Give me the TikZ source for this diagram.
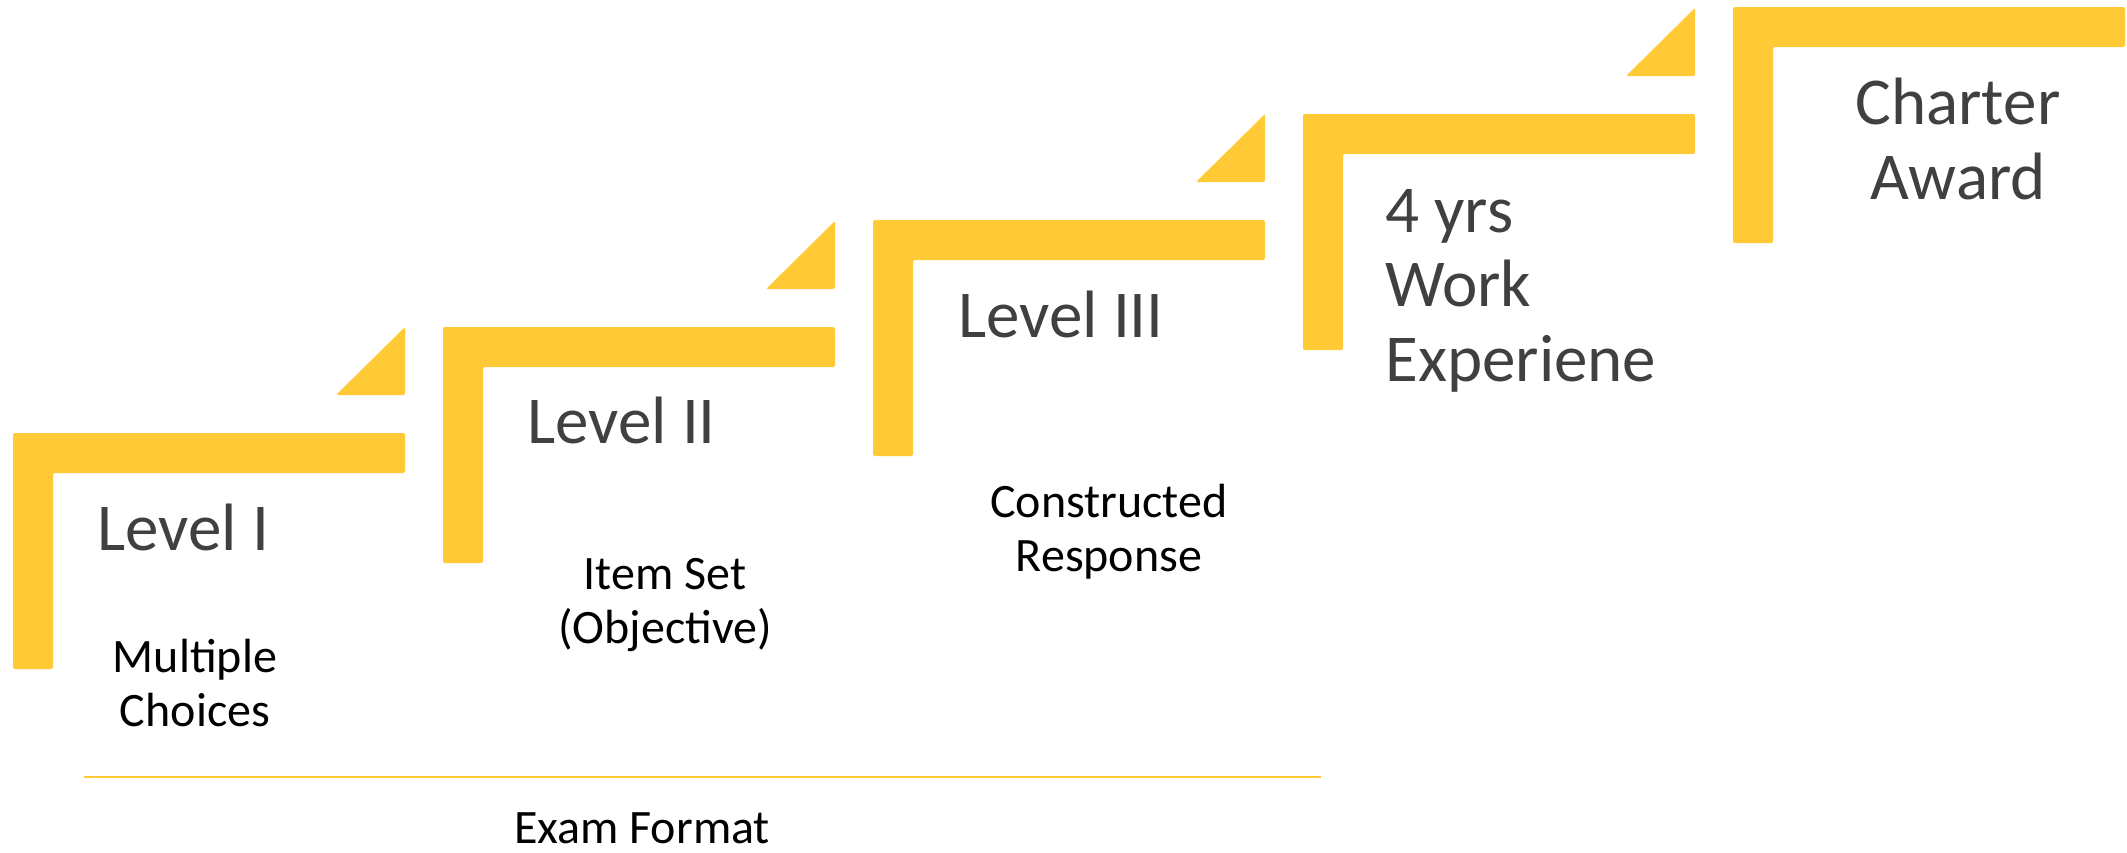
\documentclass[tikz,border=0pt]{standalone}
\usepackage{fontspec}
\setmainfont{Carlito}
\definecolor{stepyellow}{RGB}{255,202,54}
\definecolor{labelgray}{RGB}{64,64,64}
\begin{document}
\begin{tikzpicture}[x=0.5pt,y=-0.5pt,
  stair/.style={fill=stepyellow, rounded corners=1pt},
  biglabel/.style={text=labelgray, inner sep=0pt, font=\fontsize{33.5}{37.2}\selectfont},
  smalllabel/.style={text=black, inner sep=0pt, align=center, anchor=base, font=\fontsize{24}{27}\selectfont},
]
\useasboundingbox (0,0) rectangle (2127,852);
% stair steps (L-shaped bars)
\foreach \l/\t in {13/433, 443/327, 873/220, 1303/114, 1733/7} {
  \fill[stair] (\l,\t) -- ++(392,0) -- ++(0,40) -- ++(-352,0) -- ++(0,196) -- ++(-40,0) -- cycle;
}
% small triangles
\foreach \l/\t in {13/433, 443/327, 873/220, 1303/114} {
  \fill[stair] (\l+323,\t-38) -- (\l+392,\t-38) -- (\l+392,\t-106) -- cycle;
}
% level labels (anchor base = baseline of last line)
\node[biglabel, anchor=base west] (lvl1) at (97,550) {Level I};
\node[biglabel, anchor=base west] (lvl2) at (527,443) {Level II};
\node[biglabel, anchor=base west] (lvl3) at (958,337) {Level III};
\node[biglabel, anchor=base west, align=left] (work) at (1385,381) {4 yrs\\Work\\Experiene};
\node[biglabel, anchor=base, align=center] (charter) at (1958,199) {Charter\\Award};
% exam format labels
\node[smalllabel] (fmt1) at (195,726) {Multiple\\Choices};
\node[smalllabel] (fmt2) at (665,643) {Item Set\\(Objective)};
\node[smalllabel] (fmt3) at (1109,571) {Constructed\\Response};
% exam format bracket line
\coordinate (lineL) at (84,777);
\coordinate (lineR) at (1321,777);
\draw[stepyellow, line width=1.35pt] (lineL) -- (lineR);
\node[smalllabel] (examfmt) at (642,843) {Exam Format};
\end{tikzpicture}
\end{document}
